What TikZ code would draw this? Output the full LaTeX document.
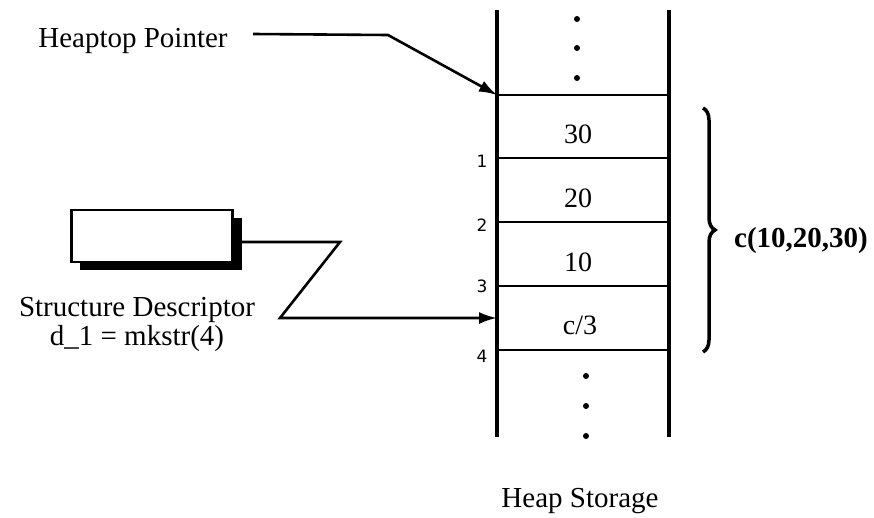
\documentclass[tikz,border=0pt]{standalone}
\usepackage{fontspec}
\setmainfont{Liberation Serif}
\newfontfamily\idxfont{DejaVu Sans}
\usetikzlibrary{arrows.meta,decorations.pathreplacing}
\tikzset{
  lbl/.style={inner sep=0pt, font=\fontsize{29}{34}\selectfont, anchor=base},
  cellnum/.style={inner sep=0pt, font=\fontsize{28}{34}\selectfont, anchor=base},
  idx/.style={inner sep=0pt, font=\idxfont\fontsize{17}{20}\selectfont, anchor=base},
  colline/.style={line width=3.2pt},
  rowline/.style={line width=2.2pt},
  ptr/.style={line width=2.6pt, line join=miter, -{Latex[length=18pt,width=12pt]}},
  dot/.style={circle, fill=black, inner sep=0pt, minimum size=6pt},
}
\begin{document}
\begin{tikzpicture}[x=1pt,y=-1pt]
\useasboundingbox (0,0) rectangle (874,517);
% heap column
\draw[colline] (497,10) -- (497,437);
\draw[colline] (669,10) -- (669,437);
\foreach \yy in {95,158,222,286,350} \draw[rowline] (497,\yy) -- (669,\yy);
% dots
\node[dot] (t1) at (577,19) {};
\node[dot] (t2) at (577,48) {};
\node[dot] (t3) at (577,78) {};
\node[dot] (b1) at (586,376) {};
\node[dot] (b2) at (586,406) {};
\node[dot] (b3) at (586,436) {};
% cell contents
\node[cellnum] (cA) at (578,143) {30};
\node[cellnum] (cB) at (578,207) {20};
\node[cellnum] (cC) at (578,271) {10};
\node[cellnum] (cD) at (580,334) {c/3};
% indices
\node[idx] (i1) at (482,167) {1};
\node[idx] (i2) at (482,231) {2};
\node[idx] (i3) at (482,292) {3};
\node[idx] (i4) at (482,362) {4};
% brace
\draw[line width=3.5pt, decorate, decoration={brace, amplitude=12pt}] (703,108) -- (703,352);
\node[lbl, font=\fontsize{29}{34}\selectfont\bfseries] (cl) at (801,247) {c(10,20,30)};
% heap storage label
\node[lbl] (hs) at (580,507) {Heap Storage};
% heaptop pointer
\node[lbl] (ht) at (133,47) {Heaptop Pointer};
\coordinate (htstart) at (253,34);
\coordinate (htbend) at (388,35);
\coordinate (topslot) at (497,95);
\draw[ptr] (htstart) -- (htbend) -- (topslot);
% structure descriptor
\fill (80,218) rectangle (242,270);
\node[draw, line width=2.5pt, fill=white, minimum width=161pt, minimum height=52pt, inner sep=0pt] (box) at (152,236) {};
\node[lbl] (sd1) at (137,316) {Structure Descriptor};
\node[lbl] (sd2) at (137,345) {d\_1 = mkstr(4)};
\coordinate (zz1) at (340,242);
\coordinate (zz2) at (280,318);
\coordinate (slotD) at (497,318);
\draw[ptr] (box.east |- zz1) -- (zz1) -- (zz2) -- (slotD);
\end{tikzpicture}
\end{document}
